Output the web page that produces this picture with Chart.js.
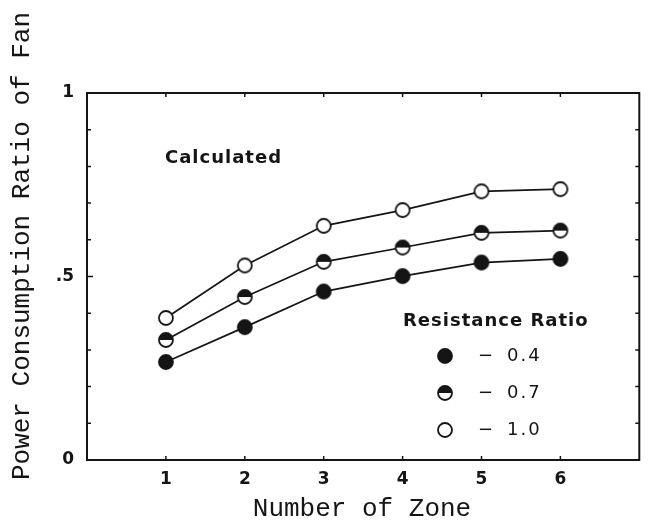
<!DOCTYPE html>
<html>
<head>
<meta charset="utf-8">
<script src="https://cdn.jsdelivr.net/npm/chart.js@4.4.1/dist/chart.umd.min.js"></script>
<style>
  html, body { margin: 0; padding: 0; background: #fff; }
  #wrap { width: 648px; height: 520px; }
</style>
</head>
<body>
<div id="wrap"><canvas id="chart" width="648" height="520"></canvas></div>
<script>
// Power consumption ratio of fan vs number of zones (calculated)
const zones = [1, 2, 3, 4, 5, 6];
const ratio04 = [0.267, 0.362, 0.459, 0.501, 0.538, 0.548];
const ratio07 = [0.327, 0.444, 0.540, 0.579, 0.619, 0.625];
const ratio10 = [0.387, 0.530, 0.638, 0.681, 0.732, 0.738];
const seriesNames = ["0.4", "0.7", "1.0"];
const yLabelValues = [0, 0.5, 1];
const yLabelTexts = ["0", ".5", "1"];

const INK = "#151515";
const MONO = '"Liberation Mono", "DejaVu Sans Mono", monospace';
const SANS = '"DejaVu Sans", "Liberation Sans", sans-serif';
const TICK_FONT = { family: SANS, size: 17, weight: "bold" };

function makeMarker(kind) {
    const r = 7, s = 20;
    const c = document.createElement("canvas");
    c.width = s; c.height = s;
    const g = c.getContext("2d");
    g.lineWidth = 1.8;
    g.strokeStyle = INK;
    g.fillStyle = "#fff";
    g.beginPath(); g.arc(s / 2, s / 2, r, 0, Math.PI * 2); g.fill();
    if (kind === "full") { g.fillStyle = INK; g.fill(); }
    if (kind === "half") {
        g.fillStyle = INK;
        g.beginPath(); g.arc(s / 2, s / 2, r, Math.PI, 0); g.closePath(); g.fill();
    }
    g.beginPath(); g.arc(s / 2, s / 2, r, 0, Math.PI * 2); g.stroke();
    return c;
}

const markers = [makeMarker("full"), makeMarker("half"), makeMarker("open")];

const makeSet = (label, values, marker) => ({
    label,
    data: zones.map((z, i) => ({ x: z, y: values[i] })),
    borderColor: INK,
    borderWidth: 1.7,
    pointStyle: marker,
    pointRadius: 7,
    tension: 0,
    fill: false,
});

// frame, inward ticks, titles and the in-plot legend
const decorations = {
    id: "decorations",
    afterDatasetsDraw(chart) {
        const { ctx, chartArea: a, scales } = chart;
        ctx.save();
        ctx.strokeStyle = INK;
        ctx.lineWidth = 2;
        ctx.strokeRect(a.left, a.top, a.right - a.left, a.bottom - a.top);
        ctx.lineWidth = 1.5;
        ctx.beginPath();
        scales.x.ticks.forEach(t => {
            const px = scales.x.getPixelForValue(t.value);
            ctx.moveTo(px, a.bottom); ctx.lineTo(px, a.bottom - 4);
            ctx.moveTo(px, a.top); ctx.lineTo(px, a.top + 4);
        });
        scales.y.ticks.forEach(t => {
            const py = scales.y.getPixelForValue(t.value);
            const len = Math.abs(t.value - 0.5) < 1e-6 ? 6 : 4;
            ctx.moveTo(a.left, py); ctx.lineTo(a.left + len, py);
            ctx.moveTo(a.right, py); ctx.lineTo(a.right - len, py);
        });
        ctx.stroke();
        ctx.restore();
    },
    afterDraw(chart) {
        const { ctx } = chart;
        ctx.save();
        ctx.fillStyle = INK;

        // axis titles
        ctx.font = "26px " + MONO;
        ctx.textAlign = "center";
        ctx.textBaseline = "alphabetic";
        ctx.fillText("Number of Zone", 362, 516);
        ctx.save();
        ctx.translate(29, 246);
        ctx.rotate(-Math.PI / 2);
        ctx.fillText("Power Consumption Ratio of Fan", 0, 0);
        ctx.restore();

        // annotations
        ctx.textAlign = "left";
        ctx.textBaseline = "middle";
        ctx.letterSpacing = "1px";
        ctx.font = "bold 18px " + SANS;
        ctx.fillText("Calculated", 165, 158);
        ctx.fillText("Resistance Ratio", 403, 321);

        ctx.letterSpacing = "2px";
        ctx.font = "18px " + SANS;
        const rows = [356, 393, 430];
        seriesNames.forEach((name, i) => {
            const m = markers[i];
            ctx.drawImage(m, 445 - m.width / 2, rows[i] - m.height / 2);
            ctx.fillText("\u2212", 478, rows[i]);
            ctx.fillText(name, 507, rows[i]);
        });
        ctx.restore();
    }
};

new Chart(document.getElementById("chart"), {
    type: "line",
    data: {
        datasets: [
            makeSet(seriesNames[0], ratio04, markers[0]),
            makeSet(seriesNames[1], ratio07, markers[1]),
            makeSet(seriesNames[2], ratio10, markers[2]),
        ]
    },
    options: {
        responsive: false,
        animation: false,
        layout: { padding: { left: 0, top: 93, right: 3, bottom: 0 } },
        plugins: { legend: { display: false }, tooltip: { enabled: false } },
        scales: {
            x: {
                type: "linear",
                min: 0,
                max: 7,
                grid: { display: false, drawTicks: false },
                border: { display: false },
                afterBuildTicks: (scale) => { scale.ticks = zones.map(v => ({ value: v })); },
                afterFit: (scale) => { scale.height = 60; },
                ticks: {
                    color: INK,
                    padding: 9,
                    font: TICK_FONT,
                    callback: (v) => String(v),
                },
            },
            y: {
                min: 0,
                max: 1,
                grid: { display: false, drawTicks: false },
                border: { display: false },
                afterFit: (scale) => { scale.width = 87; },
                ticks: {
                    stepSize: 0.1,
                    autoSkip: false,
                    color: INK,
                    padding: 13,
                    font: TICK_FONT,
                    callback: (v) => {
                        const i = yLabelValues.findIndex(t => Math.abs(t - v) < 1e-6);
                        return i >= 0 ? yLabelTexts[i] : "";
                    },
                },
            },
        },
    },
    plugins: [decorations],
});
</script>
</body>
</html>
